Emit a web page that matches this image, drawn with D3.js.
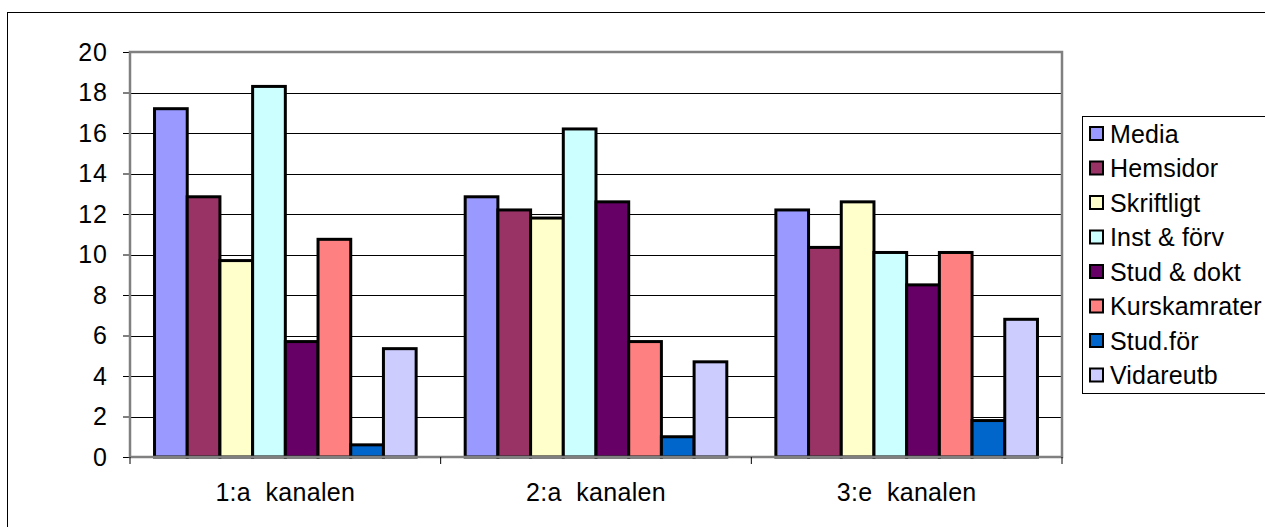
<!DOCTYPE html>
<html>
<head>
<meta charset="utf-8">
<script src="https://cdn.jsdelivr.net/npm/d3@7"></script>
<style>
  html, body { margin: 0; padding: 0; background: #fff; }
  svg { display: block; font-family: "Liberation Sans", Arial, sans-serif; }
</style>
</head>
<body>
<svg id="chart" width="1265" height="527"></svg>
<script>
const categories = ["1:a  kanalen", "2:a  kanalen", "3:e  kanalen"];
const seriesNames = ["Media", "Hemsidor", "Skriftligt", "Inst & förv", "Stud & dokt", "Kurskamrater", "Stud.för", "Vidareutb"];
const media        = [17.2, 12.85, 12.2];
const hemsidor     = [12.85, 12.2, 10.35];
const skriftligt   = [9.7, 11.8, 12.6];
const instForv     = [18.3, 16.2, 10.1];
const studDokt     = [5.7, 12.6, 8.5];
const kurskamrater = [10.75, 5.7, 10.1];
const studFor      = [0.6, 1.0, 1.8];
const vidareutb    = [5.35, 4.7, 6.8];
const seriesValues = [media, hemsidor, skriftligt, instForv, studDokt, kurskamrater, studFor, vidareutb];
const colors = ["#9999FF", "#993366", "#FFFFCC", "#CCFFFF", "#660066", "#FF8080", "#0066CC", "#CCCCFF"];
const yTicks = [0, 2, 4, 6, 8, 10, 12, 14, 16, 18, 20];

const svg = d3.select("#chart");
const plot = { left: 130, right: 1062, top: 52, bottom: 457 };

// outer frame (extends past the viewport on right/bottom)
svg.append("rect").attr("x", 7.5).attr("y", 12.5).attr("width", 1300).attr("height", 600)
  .attr("fill", "none").attr("stroke", "#000").attr("stroke-width", 1);

const x0 = d3.scaleBand().domain(categories).range([plot.left, plot.right]).paddingInner(0).paddingOuter(0);
const x1 = d3.scaleBand().domain(seriesNames).range([0, x0.bandwidth()]).paddingInner(0).paddingOuter(0.75);
const y = d3.scaleLinear().domain([0, 20]).range([plot.bottom, plot.top]);

// gridlines
svg.append("g").selectAll("line").data(yTicks.filter(d => d > 0 && d < 20)).join("line")
  .attr("x1", plot.left).attr("x2", plot.right)
  .attr("y1", d => Math.round(y(d)) + 0.5).attr("y2", d => Math.round(y(d)) + 0.5)
  .attr("stroke", "#000").attr("stroke-width", 1);

// y axis
const yAxis = d3.axisLeft(y).tickValues(yTicks).tickSize(8).tickPadding(15).tickFormat(d3.format("d"));
const gy = svg.append("g").attr("transform", `translate(${plot.left + 1},0)`).call(yAxis);
gy.select(".domain").remove();
gy.selectAll(".tick line").attr("stroke", "#000");
gy.selectAll(".tick text").attr("font-size", 25).attr("fill", "#000")
  .attr("letter-spacing", 1)
  .attr("font-family", "'Liberation Sans', Arial, sans-serif");

// bars
const groups = svg.append("g").selectAll("g").data(categories).join("g")
  .attr("transform", d => `translate(${x0(d)},0)`);
groups.selectAll("rect")
  .data((c, ci) => seriesNames.map((s, si) => ({ s, si, v: seriesValues[si][ci] })))
  .join("rect")
  .attr("x", d => x1(d.s))
  .attr("width", x1.bandwidth())
  .attr("y", d => y(d.v))
  .attr("height", d => y(0) - y(d.v))
  .attr("fill", d => colors[d.si])
  .attr("stroke", "#000").attr("stroke-width", 3);

// plot frame: grey top/right/left/bottom
svg.append("path")
  .attr("d", `M${plot.left},${plot.bottom} V${plot.top} H${plot.right} V${plot.bottom} Z`)
  .attr("fill", "none").attr("stroke", "#808080").attr("stroke-width", 2.5);

// x axis ticks at category boundaries
const bounds = categories.map(c => x0(c)).concat([plot.right]);
svg.append("g").selectAll("line").data(bounds).join("line")
  .attr("x1", d => d).attr("x2", d => d)
  .attr("y1", plot.bottom).attr("y2", plot.bottom + 7)
  .attr("stroke", "#000").attr("stroke-width", 1);

// x labels
svg.append("g").selectAll("text").data(categories).join("text")
  .attr("x", d => x0(d) + x0.bandwidth() / 2)
  .attr("y", 501)
  .attr("text-anchor", "middle")
  .attr("font-size", 25)
  .attr("letter-spacing", 0.3)
  .attr("fill", "#000")
  .style("white-space", "pre")
  .text(d => d);

// legend
const legend = svg.append("g");
legend.append("rect").attr("x", 1082.5).attr("y", 116.5).attr("width", 300).attr("height", 277)
  .attr("fill", "#fff").attr("stroke", "#000").attr("stroke-width", 1);
const items = legend.selectAll("g.item").data(seriesNames).join("g").attr("class", "item")
  .attr("transform", (d, i) => `translate(1090, ${133.5 + i * 34.5})`);
items.append("rect").attr("x", 0).attr("y", -6.5).attr("width", 13).attr("height", 13)
  .attr("fill", (d, i) => colors[i]).attr("stroke", "#000").attr("stroke-width", 2);
items.append("text").attr("x", 20).attr("y", 9)
  .attr("font-size", 25).attr("letter-spacing", 0.15).attr("fill", "#000").text(d => d);
</script>
</body>
</html>
